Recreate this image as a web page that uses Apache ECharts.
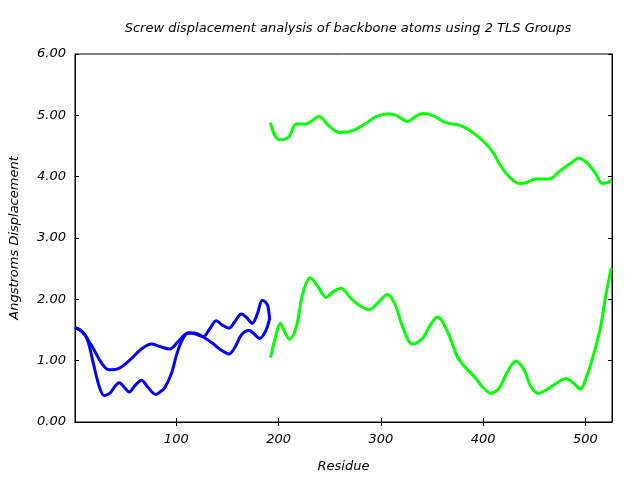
<!DOCTYPE html>
<html>
<head>
<meta charset="utf-8">
<script src="https://cdn.jsdelivr.net/npm/echarts@6/dist/echarts.min.js"></script>
<style>html,body{margin:0;padding:0;background:#fff}#c{width:640px;height:480px}</style>
</head>
<body>
<div id="c"></div>
<script>
const titleText = 'Screw displacement analysis of backbone atoms using 2 TLS Groups';
const xName = 'Residue';
const yName = 'Angstroms Displacement';
const xTicks = [100, 200, 300, 400, 500];
const yTicks = [0, 1, 2, 3, 4, 5, 6];

// Group 1 (blue), two curves
const blueA = [[1,1.54],[6,1.5],[10.8,1.42],[14,1.3],[18.9,0.96],[24.7,0.58],[29.6,0.43],[35.1,0.47],[40,0.58],[44.3,0.64],[49,0.57],[54,0.49],[60,0.6],[66,0.68],[72,0.57],[80,0.45],[85,0.5],[88.8,0.56],[95.3,0.79],[100.2,1.09],[105.1,1.31],[111.6,1.45],[118,1.45],[126,1.39],[135.9,1.28],[144,1.17],[151.6,1.11],[158,1.24],[163.6,1.42],[171,1.49],[176,1.44],[181.5,1.36],[186,1.44],[189,1.55],[191.3,1.69]];
const blueB = [[1,1.54],[6,1.5],[10.8,1.42],[14,1.33],[18.9,1.2],[27,0.96],[34.5,0.85],[43.3,0.87],[54.6,1.01],[66,1.19],[75.7,1.27],[83.9,1.23],[93.6,1.19],[101.8,1.31],[111.6,1.45],[118,1.44],[126.2,1.39],[132,1.5],[139.2,1.65],[145,1.58],[151.6,1.53],[157,1.63],[163.6,1.76],[169,1.7],[174.3,1.61],[179,1.75],[184.1,1.98],[187.5,1.95],[189.7,1.88],[191.3,1.66]];
// Group 2 (green), two curves
const greenUpper = [[192.2,4.88],[196.1,4.68],[201.7,4.6],[210.1,4.65],[217.3,4.86],[227,4.86],[232,4.9],[239.4,4.98],[249.8,4.82],[259.5,4.72],[272.5,4.75],[285.6,4.87],[295.3,4.98],[306.7,5.02],[314.8,5.0],[326.2,4.9],[333,4.97],[340.8,5.03],[350.6,5.0],[363.6,4.88],[376.6,4.84],[386.4,4.76],[399.4,4.59],[409.1,4.41],[415.6,4.22],[423.8,4.03],[435.1,3.89],[441.6,3.9],[451.4,3.96],[464.4,3.96],[474.2,4.08],[485.6,4.22],[493.7,4.3],[501.8,4.22],[510,4.05],[516.4,3.89],[521,3.9],[525.6,3.93]];
const greenLower = [[192.2,1.05],[197.1,1.39],[201.7,1.61],[206,1.47],[210.8,1.35],[217.3,1.55],[223.8,2.1],[231,2.35],[238.4,2.21],[246.6,2.03],[253,2.12],[261.2,2.18],[268,2.07],[275.8,1.94],[288.8,1.83],[296.9,1.94],[306.7,2.08],[314.8,1.88],[321.3,1.55],[331.1,1.27],[340.8,1.36],[348,1.57],[355.5,1.71],[365.2,1.47],[375,1.06],[383.1,0.88],[392.9,0.71],[399.4,0.57],[407.5,0.47],[415.6,0.55],[423.8,0.82],[431.9,0.99],[440,0.85],[446.6,0.58],[454,0.47],[464.4,0.55],[474.2,0.66],[480.7,0.71],[488.8,0.63],[494.7,0.54],[501.8,0.77],[508.3,1.12],[514.8,1.55],[519.7,2.04],[525.3,2.51]];

const FONT = 'DejaVu Sans';
const FS = 13;
const chart = echarts.init(document.getElementById('c'), null, {renderer: 'canvas'});
function line(data, color) {
  return {type: 'line', data: data, smooth: 0.35, showSymbol: false, symbol: 'none',
    lineStyle: {color: color, width: 3}, itemStyle: {color: color}, z: 3, animation: false};
}
const txt = {fontFamily: FONT, fontStyle: 'italic', fontWeight: 'normal', fontSize: FS, color: '#000'};
chart.setOption({
  animation: false,
  backgroundColor: '#fff',
  title: {text: titleText, left: 343, top: 17, textAlign: 'center', textStyle: txt},
  grid: {left: 75, right: 28, top: 54, bottom: 58, containLabel: false, outerBoundsMode: 'none',
    show: true, borderColor: '#000', borderWidth: 1, backgroundColor: 'transparent'},
  xAxis: [{
    type: 'value', min: 1, max: 526, position: 'bottom',
    name: xName, nameLocation: 'middle', nameGap: 38, nameTextStyle: txt,
    axisLine: {show: true, lineStyle: {color: '#000', width: 1}},
    axisTick: {show: true, inside: true, length: 4, customValues: xTicks, lineStyle: {color: '#000'}},
    axisLabel: Object.assign({customValues: xTicks, margin: 11}, txt),
    splitLine: {show: false}
  }, {
    type: 'value', min: 1, max: 526, position: 'top',
    axisLine: {show: true, lineStyle: {color: '#000', width: 1}},
    axisTick: {show: true, inside: true, length: 4, customValues: xTicks, lineStyle: {color: '#000'}},
    axisLabel: {show: false}, splitLine: {show: false}
  }],
  yAxis: [{
    type: 'value', min: 0, max: 6, interval: 1, position: 'left',
    name: yName, nameLocation: 'middle', nameGap: 54, nameRotate: 90, nameTextStyle: txt,
    axisLine: {show: true, lineStyle: {color: '#000', width: 1}},
    axisTick: {show: true, inside: true, length: 4, lineStyle: {color: '#000'}},
    axisLabel: Object.assign({margin: 9, formatter: v => v.toFixed(2)}, txt),
    splitLine: {show: false}
  }, {
    type: 'value', min: 0, max: 6, interval: 1, position: 'right',
    axisLine: {show: true, lineStyle: {color: '#000', width: 1}},
    axisTick: {show: true, inside: true, length: 4, lineStyle: {color: '#000'}},
    axisLabel: {show: false}, splitLine: {show: false}
  }],
  series: [
    line(blueA, '#0000ff'),
    line(blueB, '#0000ff'),
    line(greenUpper, '#00ff00'),
    line(greenLower, '#00ff00')
  ]
});
</script>
</body>
</html>
